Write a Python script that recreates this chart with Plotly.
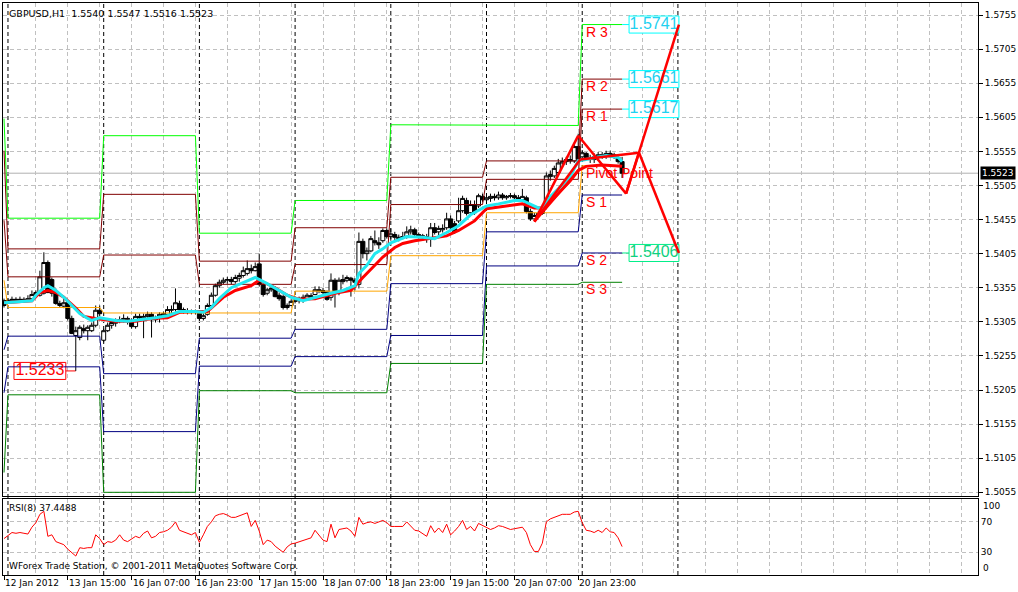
import plotly.graph_objects as go

# ---------------- data ----------------
bars = list(range(156))
opens = [1.5336,1.5335,1.5336,1.5338,1.5336,1.5338,1.5336,1.5339,1.5345,1.5344,
 1.5347,1.5392,1.5367,1.5349,1.5332,1.5328,1.5333,1.5310,1.5285,1.5282,
 1.5295,1.5292,1.5292,1.5300,1.5322,1.5278,1.5292,1.5300,1.5303,1.5306,
 1.5308,1.5310,1.5306,1.5298,1.5313,1.5311,1.5313,1.5316,1.5308,1.5310,
 1.5314,1.5316,1.5322,1.5323,1.5332,1.5323,1.5320,1.5319,1.5320,1.5319,
 1.5310,1.5316,1.5329,1.5344,1.5358,1.5363,1.5366,1.5367,1.5364,1.5369,
 1.5373,1.5376,1.5383,1.5380,1.5390,1.5360,1.5347,1.5352,1.5354,1.5344,
 1.5342,1.5326,1.5329,1.5335,1.5336,1.5338,1.5339,1.5342,1.5345,1.5352,
 1.5351,1.5348,1.5341,1.5366,1.5348,1.5364,1.5366,1.5369,1.5366,1.5360,
 1.5423,1.5405,1.5409,1.5424,1.5421,1.5424,1.5439,1.5430,1.5433,1.5429,
 1.5429,1.5430,1.5437,1.5440,1.5433,1.5430,1.5430,1.5426,1.5443,1.5437,
 1.5440,1.5443,1.5456,1.5449,1.5453,1.5468,1.5483,1.5465,1.5477,1.5475,
 1.5489,1.5484,1.5486,1.5489,1.5487,1.5491,1.5487,1.5489,1.5490,1.5487,
 1.5484,1.5487,1.5467,1.5456,1.5461,1.5464,1.5475,1.5518,1.5519,1.5524,
 1.5538,1.5540,1.5543,1.5541,1.5562,1.5547,1.5552,1.5546,1.5543,1.5546,
 1.5550,1.5549,1.5552,1.5550,1.5546,1.5540]
highs = [1.5339,1.5339,1.5342,1.5341,1.5342,1.5341,1.5344,1.5351,1.5351,1.5380,
 1.5407,1.5395,1.5370,1.5354,1.5336,1.5341,1.5336,1.5314,1.5298,1.5300,
 1.5301,1.5300,1.5304,1.5329,1.5329,1.5295,1.5304,1.5307,1.5310,1.5313,
 1.5316,1.5313,1.5310,1.5317,1.5317,1.5317,1.5320,1.5319,1.5314,1.5319,
 1.5320,1.5328,1.5329,1.5354,1.5336,1.5326,1.5325,1.5323,1.5323,1.5322,
 1.5319,1.5332,1.5348,1.5361,1.5367,1.5370,1.5371,1.5371,1.5374,1.5377,
 1.5386,1.5395,1.5389,1.5392,1.5405,1.5363,1.5355,1.5358,1.5357,1.5348,
 1.5345,1.5332,1.5338,1.5342,1.5342,1.5345,1.5347,1.5347,1.5357,1.5357,
 1.5355,1.5351,1.5376,1.5369,1.5370,1.5374,1.5373,1.5371,1.5369,1.5436,
 1.5427,1.5414,1.5431,1.5439,1.5429,1.5442,1.5442,1.5442,1.5437,1.5433,
 1.5437,1.5445,1.5446,1.5443,1.5436,1.5434,1.5434,1.5450,1.5450,1.5446,
 1.5448,1.5465,1.5461,1.5453,1.5487,1.5490,1.5487,1.5483,1.5483,1.5493,
 1.5493,1.5491,1.5493,1.5493,1.5496,1.5494,1.5491,1.5494,1.5493,1.5491,
 1.5500,1.5490,1.5471,1.5465,1.5468,1.5477,1.5524,1.5527,1.5534,1.5544,
 1.5546,1.5547,1.5549,1.5568,1.5581,1.5557,1.5554,1.5550,1.5552,1.5554,
 1.5554,1.5556,1.5556,1.5553,1.5550,1.5547]
lows = [1.5326,1.5332,1.5333,1.5333,1.5333,1.5333,1.5335,1.5336,1.5342,1.5342,
 1.5345,1.5347,1.5342,1.5330,1.5326,1.5325,1.5307,1.5287,1.5233,1.5278,
 1.5288,1.5278,1.5290,1.5297,1.5313,1.5275,1.5290,1.5295,1.5298,1.5303,
 1.5304,1.5301,1.5295,1.5295,1.5307,1.5281,1.5308,1.5282,1.5304,1.5304,
 1.5310,1.5313,1.5317,1.5320,1.5320,1.5317,1.5316,1.5316,1.5316,1.5307,
 1.5307,1.5314,1.5328,1.5342,1.5355,1.5360,1.5361,1.5360,1.5361,1.5364,
 1.5370,1.5373,1.5376,1.5379,1.5357,1.5342,1.5344,1.5349,1.5341,1.5336,
 1.5323,1.5323,1.5328,1.5332,1.5332,1.5333,1.5336,1.5338,1.5344,1.5347,
 1.5345,1.5336,1.5336,1.5326,1.5344,1.5360,1.5363,1.5342,1.5351,1.5354,
 1.5398,1.5395,1.5407,1.5417,1.5412,1.5421,1.5427,1.5424,1.5424,1.5423,
 1.5426,1.5427,1.5433,1.5430,1.5427,1.5424,1.5421,1.5415,1.5433,1.5431,
 1.5436,1.5440,1.5440,1.5434,1.5450,1.5465,1.5461,1.5462,1.5462,1.5472,
 1.5481,1.5481,1.5481,1.5483,1.5484,1.5484,1.5484,1.5486,1.5484,1.5481,
 1.5481,1.5464,1.5453,1.5453,1.5459,1.5462,1.5472,1.5512,1.5516,1.5521,
 1.5534,1.5535,1.5537,1.5538,1.5541,1.5541,1.5543,1.5538,1.5538,1.5541,
 1.5544,1.5544,1.5546,1.5544,1.5537,1.5516]
closes = [1.5329,1.5336,1.5338,1.5336,1.5338,1.5336,1.5339,1.5345,1.5348,1.5371,
 1.5392,1.5348,1.5347,1.5332,1.5329,1.5333,1.5310,1.5288,1.5292,1.5297,
 1.5292,1.5297,1.5300,1.5322,1.5317,1.5292,1.5300,1.5304,1.5306,1.5308,
 1.5310,1.5306,1.5298,1.5313,1.5311,1.5313,1.5316,1.5308,1.5311,1.5316,
 1.5317,1.5323,1.5323,1.5333,1.5323,1.5320,1.5319,1.5320,1.5319,1.5310,
 1.5314,1.5329,1.5344,1.5358,1.5363,1.5366,1.5367,1.5364,1.5370,1.5373,
 1.5380,1.5383,1.5380,1.5386,1.5360,1.5345,1.5352,1.5354,1.5342,1.5339,
 1.5326,1.5329,1.5335,1.5338,1.5338,1.5341,1.5344,1.5343,1.5352,1.5351,
 1.5348,1.5338,1.5366,1.5351,1.5366,1.5367,1.5370,1.5366,1.5363,1.5423,
 1.5405,1.5409,1.5427,1.5421,1.5418,1.5439,1.5430,1.5434,1.5429,1.5427,
 1.5430,1.5437,1.5440,1.5433,1.5430,1.5431,1.5426,1.5443,1.5436,1.5442,
 1.5442,1.5456,1.5443,1.5437,1.5468,1.5486,1.5464,1.5477,1.5465,1.5490,
 1.5484,1.5487,1.5489,1.5487,1.5491,1.5487,1.5489,1.5490,1.5487,1.5484,
 1.5489,1.5467,1.5456,1.5461,1.5464,1.5472,1.5519,1.5521,1.5530,1.5538,
 1.5540,1.5543,1.5541,1.5562,1.5544,1.5553,1.5546,1.5543,1.5547,1.5550,
 1.5549,1.5552,1.5550,1.5547,1.5540,1.5523]

# moving averages (read at sample bars)
fast_ma_bars = [0,7,8,10,11,13,15,17,19,21,22,24,25,28,31,34,38,41,44,48,50,52,54,57,60,63,66,69,72,75,
                78,82,85,88,89,91,93,95,97,101,105,108,111,114,117,121,124,128,130,132,134,135,137,139,142,144,148,151,154,155]
fast_ma_vals = [1.5333,1.5336,1.5344,1.5355,1.5358,1.5351,1.5341,1.5329,1.5317,1.5310,1.5307,1.5311,1.5310,1.5307,1.5306,
                1.5308,1.5311,1.5314,1.5320,1.5320,1.5319,1.5326,1.5339,1.5355,1.5363,1.5370,1.5361,1.5351,1.5341,1.5336,
                1.5341,1.5347,1.5351,1.5358,1.5376,1.5388,1.5405,1.5412,1.5421,1.5430,1.5429,1.5427,1.5436,1.5446,1.5462,
                1.5475,1.5478,1.5483,1.5483,1.5477,1.5472,1.5472,1.5489,1.5500,1.5518,1.5541,1.5546,1.5549,1.5546,1.5540]
slow_ma_bars = [0,7,9,11,13,15,18,20,23,25,28,33,37,41,44,48,51,55,58,62,64,68,71,74,78,83,87,90,94,95,98,100,103,
                107,111,114,118,121,126,130,133,135,138,142,144,146,150,155]
slow_ma_vals = [1.5333,1.5336,1.5348,1.5351,1.5348,1.5341,1.5325,1.5313,1.5310,1.5308,1.5306,1.5306,1.5310,1.5311,1.5319,
                1.5320,1.5320,1.5341,1.5351,1.5358,1.5366,1.5355,1.5344,1.5338,1.5339,1.5347,1.5351,1.5370,1.5395,1.5400,
                1.5414,1.5420,1.5424,1.5427,1.5431,1.5439,1.5453,1.5471,1.5475,1.5478,1.5472,1.5472,1.5487,1.5512,1.5527,
                1.5533,1.5535,1.5533]

# daily pivot levels
day_first_bar = [0, 1, 25, 49, 73, 97, 121, 145]
day_last_bar = [0, 24, 48, 72, 96, 120, 144, 155]
r3 = [1.5603, 1.5457, 1.5578, 1.5435, 1.5483, 1.5594, 1.5593, 1.5741]
r2 = [1.5556, 1.5412, 1.5492, 1.5394, 1.5443, 1.5517, 1.5541, 1.5661]
r1 = [1.5454, 1.5371, 1.5403, 1.5360, 1.5389, 1.5477, 1.5514, 1.5617]
pp = [1.5366, 1.5326, 1.5318, 1.5318, 1.5350, 1.5402, 1.5465, 1.5534]
s1 = [1.5264, 1.5284, 1.5229, 1.5281, 1.5294, 1.5361, 1.5437, 1.5491]
s2 = [1.5201, 1.5239, 1.5144, 1.5240, 1.5254, 1.5285, 1.5387, 1.5406]
s3 = [1.5084, 1.5198, 1.5055, 1.5204, 1.5201, 1.5244, 1.5360, 1.5363]
level_names = ["R 3", "R 2", "R 1", "Pivot Point", "S 1", "S 2", "S 3"]

# RSI(8)
rsi = [48,52,56,55,56,55,54,63,69,80,
 84,51,53,44,42,40,34,29,25,36,
 35,36,36,53,48,40,44,43,46,53,
 46,44,48,51,49,55,58,49,51,56,
 57,59,63,70,59,57,56,53,56,43,
 53,64,70,78,80,81,79,76,76,78,
 80,82,64,72,58,40,46,44,38,34,
 30,37,41,42,44,46,48,49,59,53,
 46,44,67,49,60,61,62,58,51,76,
 67,69,70,68,70,72,69,64,64,64,
 64,70,64,59,58,55,51,65,56,62,
 56,67,53,58,64,72,60,64,58,68,
 65,62,60,62,65,64,62,60,61,62,
 63,56,40,31,31,42,70,74,76,79,
 80,80,80,83,84,69,59,58,56,59,
 56,62,57,56,49,37.4488]

# drawn red trend / projection lines (bar, price)
zz_x0 = [133, 133, 133, 144, 144.5, 156, 159.25, 156]
zz_y0 = [1.5452, 1.5452, 1.5452, 1.5578, 1.5543, 1.5493, 1.5553, 1.5493]
zz_x1 = [144, 144.5, 144.5, 156, 159.25, 159.25, 169.25, 169.25]
zz_y1 = [1.5578, 1.5543, 1.5530, 1.5493, 1.5553, 1.5553, 1.5406, 1.5741]

# axes
label_bars = [0, 16, 32, 48, 64, 80, 96, 112, 128, 144]
label_texts = ["12 Jan 2012", "13 Jan 15:00", "16 Jan 07:00", "16 Jan 23:00", "17 Jan 15:00",
               "18 Jan 07:00", "18 Jan 23:00", "19 Jan 15:00", "20 Jan 07:00", "20 Jan 23:00"]
price_ticks = [1.5055, 1.5105, 1.5155, 1.5205, 1.5255, 1.5305, 1.5355, 1.5405, 1.5455, 1.5505,
               1.5555, 1.5605, 1.5655, 1.5705, 1.5755]
separator_bars = [1, 25, 49, 73, 97, 121, 145, 169]
bid_price = 1.5523
low_label = 1.5233
low_bar = 18
ohlc_title = "GBPUSD,H1  1.5540 1.5547 1.5516 1.5523"

# ---------------- figure ----------------
FONT = "DejaVu Sans"
GRID = "#c0c0c0"
BOX_HALF = 0.00125   # half height of price-label boxes (price units)
fig = go.Figure()

level_sets = [(r3, "#00ff00"), (r2, "#800000"), (r1, "#800000"), (pp, "#ffa500"),
              (s1, "#000080"), (s2, "#000080"), (s3, "#008000")]
for lv, col in level_sets:
    xs, ys = [], []
    for d in range(len(day_first_bar)):
        for b in range(day_first_bar[d], day_last_bar[d] + 1):
            xs.append(b)
            ys.append(lv[d])
    fig.add_trace(go.Scatter(x=xs, y=ys, mode="lines", line=dict(color=col, width=1),
                             xaxis="x", yaxis="y", hoverinfo="skip"))

fig.add_trace(go.Candlestick(
    x=bars, open=opens, high=highs, low=lows, close=closes,
    increasing=dict(line=dict(color="black", width=1), fillcolor="white"),
    decreasing=dict(line=dict(color="black", width=1), fillcolor="black"),
    whiskerwidth=0, xaxis="x", yaxis="y", hoverinfo="skip"))

fig.add_trace(go.Scatter(x=slow_ma_bars, y=slow_ma_vals, mode="lines",
                         line=dict(color="#ff0000", width=3), xaxis="x", yaxis="y"))
fig.add_trace(go.Scatter(x=fast_ma_bars, y=fast_ma_vals, mode="lines",
                         line=dict(color="#22e8f0", width=3), xaxis="x", yaxis="y"))

# price label texts (drawn before the projection lines so the lines cross over them)
last_bar = day_last_bar[-1]
box_x0, box_x1 = last_bar + 1.75, last_bar + 14.25
proj_labels = [(r3[-1], "#00ffff", "#20d0f0"), (r2[-1], "#00ffff", "#20d0f0"),
               (r1[-1], "#00ffff", "#20d0f0"), (s2[-1], "#00ee88", "#10d080")]
for lv, col, tcol in proj_labels:
    fig.add_trace(go.Scatter(x=[(box_x0 + box_x1) / 2], y=[lv], mode="text", text=[f"{lv:.4f}"],
                             textposition="middle center",
                             textfont=dict(family="Liberation Sans", size=16, color=tcol),
                             xaxis="x", yaxis="y", hoverinfo="skip"))
fig.add_trace(go.Scatter(x=[9], y=[low_label], mode="text", text=[f"{low_label:.4f}"],
                         textposition="middle center",
                         textfont=dict(family="Liberation Sans", size=16, color="#ff0000"),
                         xaxis="x", yaxis="y", hoverinfo="skip"))

zx, zy = [], []
for a, b, c, d in zip(zz_x0, zz_y0, zz_x1, zz_y1):
    zx += [a, c, None]
    zy += [b, d, None]
fig.add_trace(go.Scatter(x=zx, y=zy, mode="lines", line=dict(color="#ff0000", width=2.5),
                         xaxis="x", yaxis="y", connectgaps=False))

fig.add_trace(go.Scatter(x=bars, y=rsi, mode="lines", line=dict(color="#ff0000", width=1),
                         xaxis="x2", yaxis="y2"))

shapes = []
for b in separator_bars:
    shapes.append(dict(type="line", xref="x", yref="paper", x0=b, x1=b, y0=0, y1=1,
                       line=dict(color="black", width=1, dash="4px,3px"), layer="between"))
shapes.append(dict(type="line", xref="paper", yref="y", x0=0, x1=1, y0=bid_price, y1=bid_price,
                   line=dict(color="#b0b0b0", width=1), layer="between"))
for lv, col, tcol in proj_labels:
    shapes.append(dict(type="line", xref="x", yref="y", x0=last_bar, x1=box_x0, y0=lv, y1=lv,
                       line=dict(color=col, width=1), layer="between"))
    shapes.append(dict(type="rect", xref="x", yref="y", x0=box_x0, x1=box_x1, y0=lv - BOX_HALF,
                       y1=lv + BOX_HALF, fillcolor="white", line=dict(color=col, width=1), layer="between"))
shapes.append(dict(type="rect", xref="x", yref="y", x0=2.5, x1=15.5, y0=low_label - BOX_HALF,
                   y1=low_label + BOX_HALF, fillcolor="white", line=dict(color="#ff0000", width=1),
                   layer="between"))
shapes.append(dict(type="line", xref="x", yref="y", x0=15.5, x1=low_bar, y0=low_label, y1=low_label,
                   line=dict(color="#ff0000", width=1), layer="between"))

ann = []
ann.append(dict(xref="paper", yref="paper", x=0, y=1, xanchor="left", yanchor="top", xshift=4, yshift=-3,
                text=ohlc_title, showarrow=False, font=dict(family=FONT, size=9.5, color="black")))
ann.append(dict(xref="paper", yref="y2", x=0, y=100, xanchor="left", yanchor="top", xshift=4, yshift=-2,
                text="RSI(8) 37.4488", showarrow=False, font=dict(family=FONT, size=9, color="black")))
ann.append(dict(xref="paper", yref="y2", x=0, y=0, xanchor="left", yanchor="bottom", xshift=4, yshift=2,
                text="WForex Trade Station, © 2001-2011 MetaQuotes Software Corp.", showarrow=False,
                font=dict(family=FONT, size=9, color="black")))
for b, t in zip(label_bars, label_texts):
    ann.append(dict(xref="x2", yref="paper", x=b, y=0, xanchor="left", yanchor="top", xshift=-1, yshift=-1,
                    text=t, showarrow=False, font=dict(family=FONT, size=9, color="black")))
for v, t, ya in [(100, "100", "top"), (0, "0", "bottom")]:
    ann.append(dict(xref="paper", yref="y2", x=1, y=v, xanchor="left", yanchor=ya, xshift=3,
                    text=t, showarrow=False, font=dict(family=FONT, size=9, color="black")))
ann.append(dict(xref="paper", yref="y", x=1, y=bid_price, xanchor="left", yanchor="middle", xshift=2,
                text="1.5523", showarrow=False, bgcolor="black", borderpad=1,
                font=dict(family=FONT, size=9, color="white")))
day7 = [r3[-1], r2[-1], r1[-1], pp[-1], s1[-1], s2[-1], s3[-1]]
for name, lv in zip(level_names, day7):
    ann.append(dict(xref="x", yref="y", x=145.5, y=lv, xanchor="left", yanchor="top", yshift=3,
                    text=name, showarrow=False, font=dict(family="Liberation Sans", size=14, color="#ff0000")))

xr = [-0.25, 244.25]
fig.update_layout(
    width=1018, height=592, margin=dict(l=2, r=38, t=2, b=17),
    paper_bgcolor="white", plot_bgcolor="white", showlegend=False, boxgap=0, boxgroupgap=0,
    font=dict(family=FONT, size=9, color="black"),
    xaxis=dict(domain=[0, 1], anchor="y", range=xr, showticklabels=False, ticks="",
               tickmode="linear", tick0=0, dtick=8, showgrid=True, gridcolor=GRID, griddash="4px,3px",
               showline=True, mirror=True, linecolor="black", linewidth=1, zeroline=False,
               rangeslider=dict(visible=False)),
    xaxis2=dict(domain=[0, 1], anchor="y2", matches="x", range=xr, tickmode="array",
                tickvals=label_bars, ticktext=[""] * len(label_bars), ticks="outside", ticklen=4,
                tickcolor="black", showgrid=True, gridcolor=GRID, griddash="4px,3px",
                minor=dict(tick0=0, dtick=8, showgrid=True, gridcolor=GRID, griddash="4px,3px", ticks=""),
                showline=True, mirror=True, linecolor="black", linewidth=1, zeroline=False),
    yaxis=dict(domain=[0.1379, 1], anchor="x", side="right", range=[1.50494, 1.57726],
               tickmode="array", tickvals=price_ticks, ticktext=[f"{p:.4f}" for p in price_ticks],
               ticks="outside", ticklen=4, tickcolor="black", showgrid=True, gridcolor=GRID,
               griddash="4px,3px", showline=True, mirror=True, linecolor="black", linewidth=1,
               zeroline=False, tickfont=dict(family=FONT, size=9)),
    yaxis2=dict(domain=[0, 0.1326], anchor="x2", side="right", range=[0, 100], tickmode="array",
                tickvals=[30, 70], ticktext=["30", "70"], ticks="", showgrid=True, gridcolor=GRID,
                griddash="4px,3px", showline=True, mirror=True, linecolor="black", linewidth=1,
                zeroline=False, tickfont=dict(family=FONT, size=9)),
    shapes=shapes, annotations=ann,
)
fig.write_html("out.html", config={"displayModeBar": False},
               post_script="document.body.style.margin='0px';document.body.style.overflow='hidden';")
